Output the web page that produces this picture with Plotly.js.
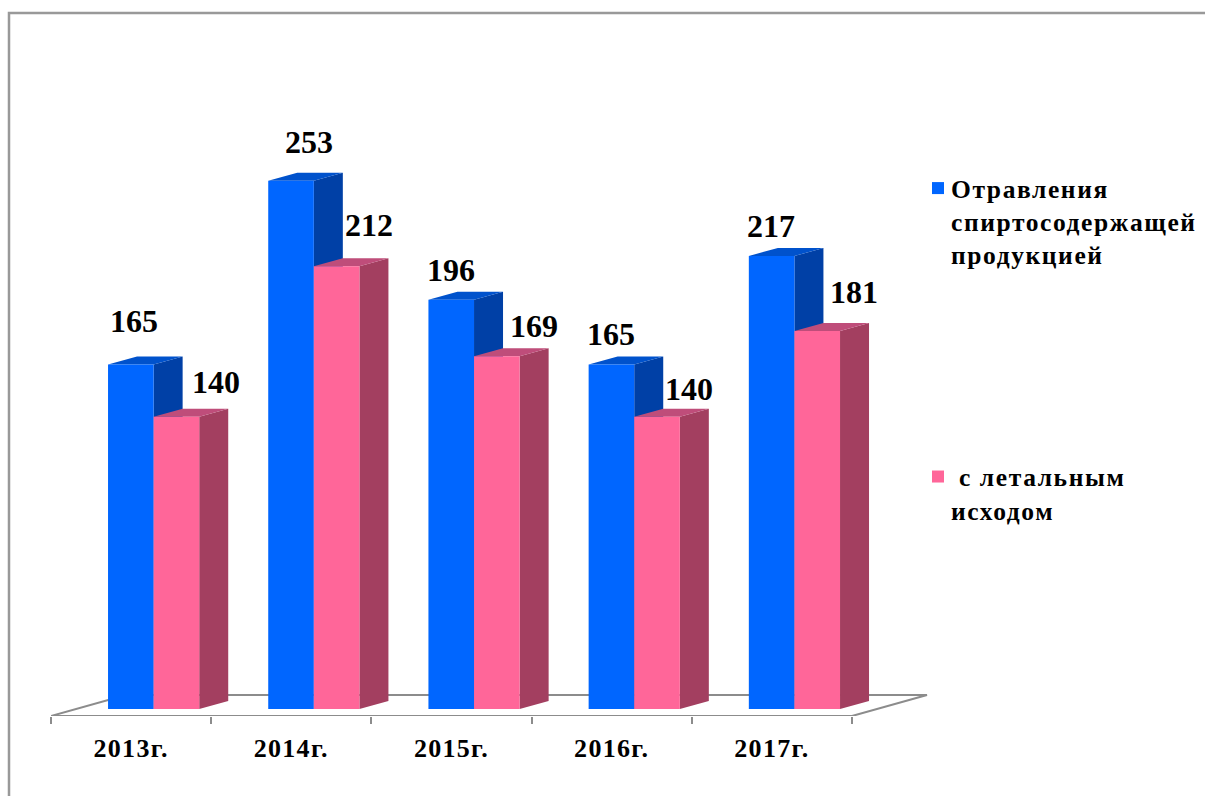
<!DOCTYPE html>
<html>
<head>
<meta charset="utf-8">
<script src="https://cdn.plot.ly/plotly-3.0.1.min.js"></script>
<style>
html,body{margin:0;padding:0;background:#fff;overflow:hidden}
.legendtext{letter-spacing:1.6px;transform:translateX(-7px)}
.x2tick text{letter-spacing:1.3px}
</style>
</head>
<body>
<div id="chart" style="width:1205px;height:796px"></div>
<script>
const categories = ["2013г.", "2014г.", "2015г.", "2016г.", "2017г."];
const poisoned = [165, 253, 196, 165, 217];
const lethal = [140, 212, 169, 140, 181];
const poisonedName = "Отравления<br>спиртосодержащей<br>продукцией";
const lethalName = "\u00a0с летальным<br>исходом";

// label nudges, in pixels, from each bar's top centre
const poisonedLabelDx = [3, 18, 0, 0, -1];
const poisonedLabelDy = [43, 39, 30, 30, 30];
const lethalLabelDx = [40, 32, 37, 32, 37];
const lethalLabelDy = [35, 41, 30, 28, 39];

const serif = '"Liberation Serif", "Times New Roman", serif';
const pos = categories.map((_, i) => i);

// geometry
const plotL = 51, axisEnd = 852, plotR = 929, plotT = 60, axisY = 716, baseY = 709;
const pxPerUnit = 2.088, pxPerCat = (axisEnd - plotL) / 5;
const barW = 45.6 / pxPerCat;
const poisonedOffset = -0.144, lethalOffset = poisonedOffset + barW;
const depthX = 29 / pxPerCat, depthY = 8 / pxPerUnit;
const floorX = 75 / pxPerCat, floorY = 21 / pxPerUnit;
const yMin = -(axisY - baseY) / pxPerUnit;
const yMax = (baseY - plotT) / pxPerUnit;
const left = -0.5, right = 4.5;
const rangeEnd = left + (plotR - plotL) / pxPerCat;

function sidePoly(values, offset) {
  const x = [], y = [];
  values.forEach((v, i) => {
    const r = pos[i] + offset + barW;
    x.push(r, r + depthX, r + depthX, r, r, null);
    y.push(0, depthY, v + depthY, v, 0, null);
  });
  return {x, y};
}
function topPoly(values, offset) {
  const x = [], y = [];
  values.forEach((v, i) => {
    const l = pos[i] + offset, r = l + barW;
    x.push(l, r, r + depthX, l + depthX, l, null);
    y.push(v, v, v + depthY, v + depthY, v, null);
  });
  return {x, y};
}
function poly(p, color) {
  return {type: 'scatter', mode: 'lines', x: p.x, y: p.y, fill: 'toself', fillcolor: color,
    line: {width: 0, color: color}, showlegend: false, hoverinfo: 'skip',
    xaxis: 'x', yaxis: 'y'};
}
function bars(values, offset, color, name) {
  return {type: 'bar', x: pos, y: values, width: barW, offset: offset, name: name, legendgroup: name,
    marker: {color: color, line: {width: 0}}, xaxis: 'x2', yaxis: 'y', hoverinfo: 'x+y'};
}

const gray = '#8c8c8c';
const floor = {type: 'scatter', mode: 'lines',
  x: [left, left + floorX, right + floorX, right, left],
  y: [yMin, yMin + floorY, yMin + floorY, yMin, yMin],
  line: {color: gray, width: 2}, showlegend: false, hoverinfo: 'skip', cliponaxis: false,
  xaxis: 'x', yaxis: 'y'};

const traces = [
  floor,
  poly(sidePoly(poisoned, poisonedOffset), '#0040a6'),
  poly(topPoly(poisoned, poisonedOffset), '#0052cc'),
  poly(sidePoly(lethal, lethalOffset), '#a33f60'),
  poly(topPoly(lethal, lethalOffset), '#bf4d7a'),
  bars(poisoned, poisonedOffset, '#0066ff', poisonedName),
  bars(lethal, lethalOffset, '#ff6699', lethalName)
];

function labels(values, offset, dx, dy) {
  return values.map((v, i) => ({
    xref: 'x2', yref: 'y', x: pos[i] + offset + barW / 2, y: v, text: String(v), showarrow: false,
    xanchor: 'center', yanchor: 'middle', xshift: dx[i], yshift: dy[i],
    font: {family: serif, size: 32, color: '#000', weight: 700}
  }));
}

const pxX = px => (px - plotL) / (plotR - plotL);
const pxY = px => (axisY - px) / (axisY - plotT);

const layout = {
  width: 1205, height: 796,
  margin: {l: plotL, r: 1205 - plotR, t: plotT, b: 796 - axisY, pad: 0},
  paper_bgcolor: '#fff', plot_bgcolor: 'rgba(0,0,0,0)',
  font: {family: serif},
  barmode: 'overlay',
  xaxis: {type: 'linear', range: [left, rangeEnd], tickmode: 'array',
    tickvals: [-0.5, 0.5, 1.5, 2.5, 3.5, 4.5], showticklabels: false,
    ticks: 'outside', ticklen: 7, tickwidth: 2, tickcolor: gray,
    showline: false, showgrid: false, zeroline: false, fixedrange: true},
  xaxis2: {type: 'linear', overlaying: 'x', anchor: 'y', side: 'bottom', range: [left, rangeEnd],
    tickmode: 'array', tickvals: pos, ticktext: categories,
    ticks: 'outside', ticklen: 9, tickcolor: 'rgba(0,0,0,0)', tickwidth: 0,
    tickfont: {family: serif, size: 26, color: '#000', weight: 700},
    showline: false, showgrid: false, zeroline: false, fixedrange: true},
  yaxis: {range: [yMin, yMax], visible: false, fixedrange: true},
  showlegend: true,
  legend: {x: plotR / 1205, xref: 'container', xanchor: 'left', y: 1 - 165 / 796, yref: 'container', yanchor: 'top',
    traceorder: 'grouped', tracegroupgap: 186, indentation: -11, valign: 'top',
    bgcolor: 'rgba(0,0,0,0)', borderwidth: 0,
    font: {family: serif, size: 25.5, color: '#000', weight: 700}},
  annotations: labels(poisoned, poisonedOffset, poisonedLabelDx, poisonedLabelDy)
    .concat(labels(lethal, lethalOffset, lethalLabelDx, lethalLabelDy)),
  shapes: [{type: 'rect', xref: 'paper', yref: 'paper', layer: 'below',
    x0: pxX(9), x1: pxX(1300), y0: pxY(900), y1: pxY(13),
    line: {color: '#999', width: 2.5}, fillcolor: 'rgba(0,0,0,0)'}]
};

Plotly.newPlot('chart', traces, layout, {displayModeBar: false, responsive: false});
</script>
</body>
</html>
